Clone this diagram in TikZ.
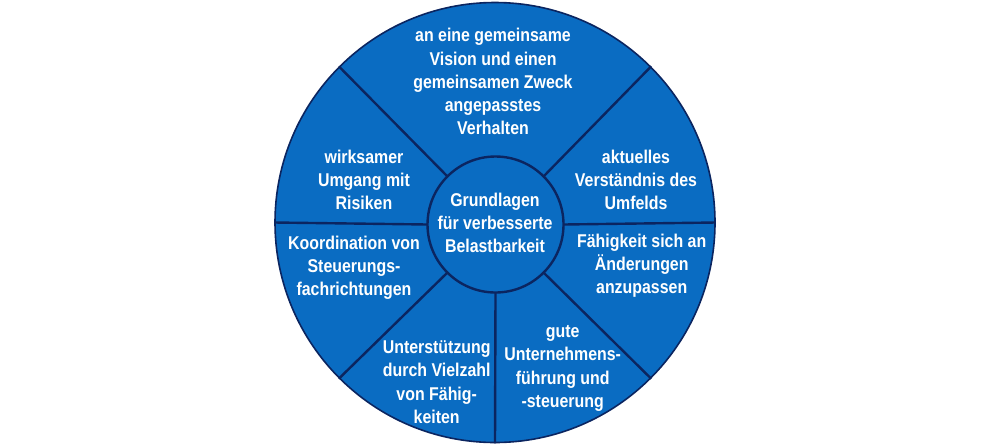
\documentclass[tikz,border=0pt]{standalone}
\usepackage{fontspec}
\setmainfont{Liberation Sans}[FakeStretch=0.86]
\definecolor{wheelblue}{HTML}{0A6CC2}
\definecolor{wheelline}{HTML}{0B2560}
\begin{document}
\begin{tikzpicture}[x=1pt,y=-1pt,
  divider/.style={draw=wheelline,line width=2.4pt},
  label/.style={text=white,align=center,inner sep=0pt,
    font=\bfseries\fontsize{18.5}{23.3}\selectfont}]
\useasboundingbox (0,0) rectangle (992,445);
\node[circle,fill=wheelblue,draw=wheelline,line width=1.6pt,minimum size=440pt,inner sep=0pt] (outer) at (495,222.5) {};
\node[circle,minimum size=136pt,inner sep=0pt] (innerref) at (495.5,224.5) {};
\foreach \a in {0,45,135,180,225,270,315}
  \draw[divider] (innerref.\a) -- (outer.\a);
\node[circle,fill=wheelblue,draw=wheelline,line width=2.4pt,minimum size=136pt,inner sep=0pt] (inner) at (495.5,224.5) {};
\node[label] (center) at (495,223) {Grundlagen\\für verbesserte\\Belastbarkeit};
\node[label] (top) at (493,81.7) {an eine gemeinsame\\Vision und einen\\gemeinsamen Zweck\\angepasstes\\Verhalten};
\node[label] (ul) at (364,180) {wirksamer\\Umgang mit\\Risiken};
\node[label] (ur) at (636,180) {aktuelles\\Verständnis des\\Umfelds};
\node[label] (l) at (354,267.7) {Koordination von\\Steuerungs-\\fachrichtungen};
\node[label] (r) at (641.7,265.7) {Fähigkeit sich an\\Änderungen\\anzupassen};
\node[label] (ll) at (436.7,382.2) {Unterstützung\\durch Vielzahl\\von Fähig-\\keiten};
\node[label] (lr) at (562.7,368.3) {gute\\Unternehmens-\\führung und\\-steuerung};
\end{tikzpicture}
\end{document}
